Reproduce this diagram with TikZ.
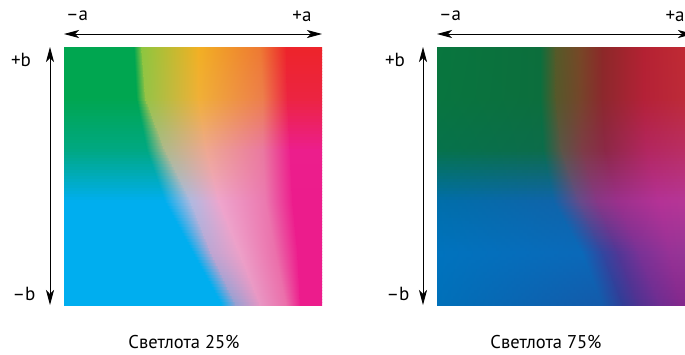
\documentclass[tikz,border=0pt]{standalone}
\usepackage{fontspec}
\setmainfont{PT Sans}
\usetikzlibrary{arrows.meta}

% key rows (t = 0, .2, .4, .6, .8, 1), 7 stops each
\def\Lpos{{0,0.27,0.30,0.52,0.76,0.86,1,
  0,0.28,0.315,0.52,0.77,0.865,1,
  0,0.32,0.39,0.55,0.77,0.875,1,
  0,0.39,0.49,0.60,0.78,0.885,1,
  0,0.50,0.57,0.68,0.82,0.905,1,
  0,0.61,0.665,0.76,0.86,0.915,1}}
\def\Rpos{{0,0.40,0.46,0.55,0.64,0.80,1,
  0,0.40,0.46,0.55,0.64,0.80,1,
  0,0.41,0.48,0.56,0.65,0.81,1,
  0,0.45,0.55,0.62,0.70,0.86,1,
  0,0.56,0.64,0.70,0.78,0.90,1,
  0,0.64,0.72,0.78,0.86,0.94,1}}

\newcommand\keyrow[9]{%
  \definecolor{#1#2c0}{RGB}{#3}\definecolor{#1#2c1}{RGB}{#4}%
  \definecolor{#1#2c2}{RGB}{#5}\definecolor{#1#2c3}{RGB}{#6}%
  \definecolor{#1#2c4}{RGB}{#7}\definecolor{#1#2c5}{RGB}{#8}%
  \definecolor{#1#2c6}{RGB}{#9}}

% Lightness 25%
\keyrow{L}{0}{0,166,80}{0,166,80}{141,198,63}{242,176,35}{238,120,50}{237,36,42}{237,36,42}
\keyrow{L}{1}{0,166,80}{0,166,80}{150,195,70}{240,176,55}{237,125,75}{236,36,65}{236,36,65}
\keyrow{L}{2}{0,168,130}{0,168,130}{175,185,140}{238,168,145}{234,120,160}{236,30,140}{236,30,140}
\keyrow{L}{3}{0,174,239}{0,174,239}{175,185,225}{238,165,205}{235,120,175}{236,28,140}{236,28,140}
\keyrow{L}{4}{0,174,239}{0,174,239}{190,165,210}{237,160,200}{235,110,170}{236,28,140}{236,28,140}
\keyrow{L}{5}{0,174,239}{0,174,239}{150,160,210}{232,150,195}{235,110,170}{236,28,140}{236,28,140}
% Lightness 75%
\keyrow{R}{0}{8,118,62}{12,110,60}{85,90,40}{118,72,38}{140,40,40}{180,33,50}{195,45,52}
\keyrow{R}{1}{8,117,63}{12,110,61}{85,88,42}{116,70,42}{140,40,45}{180,33,55}{192,45,56}
\keyrow{R}{2}{6,114,75}{12,108,74}{90,85,70}{125,60,70}{140,40,70}{178,38,95}{188,48,100}
\keyrow{R}{3}{0,110,170}{15,100,170}{100,75,140}{135,55,135}{155,48,140}{180,50,150}{182,55,150}
\keyrow{R}{4}{0,115,190}{10,105,185}{50,70,160}{80,55,150}{120,50,150}{150,50,150}{150,55,150}
\keyrow{R}{5}{0,112,185}{20,90,170}{50,60,150}{80,50,145}{110,45,145}{130,40,140}{135,40,140}

% #1 key prefix, #2 left x, #3 top y
\newcommand\huepatch[3]{%
  \expandafter\let\expandafter\hpPos\csname #1pos\endcsname
  \begin{scope}
  \clip (#2,#3) rectangle ++(258,258);
  \foreach \ii in {0,...,85}{
    \pgfmathsetmacro\hpT{(\ii+0.5)/17.2}
    \pgfmathtruncatemacro\hpA{min(floor(\hpT),4)}
    \pgfmathtruncatemacro\hpB{\hpA+1}
    \pgfmathsetmacro\hpS{\hpT-\hpA}
    \pgfmathtruncatemacro\hpW{round(100*(1-\hpS))}
    \pgfmathsetmacro\hpY{#3+3*\ii}
    \foreach \jj [evaluate=\jj as \kk using int(\jj+1)] in {0,...,5}{
      \pgfmathsetmacro\hpXa{#2+258*((1-\hpS)*\hpPos[7*\hpA+\jj]+\hpS*\hpPos[7*\hpB+\jj])}
      \pgfmathsetmacro\hpXb{#2+258*((1-\hpS)*\hpPos[7*\hpA+\kk]+\hpS*\hpPos[7*\hpB+\kk])}
      \colorlet{hpL}{#1\hpA c\jj!\hpW!#1\hpB c\jj}
      \colorlet{hpR}{#1\hpA c\kk!\hpW!#1\hpB c\kk}
      \shade[left color=hpL,right color=hpR] (\hpXa,\hpY) rectangle (\hpXb+0.6,\hpY+3.6);
    }
  }
  \end{scope}}

\begin{document}
\begin{tikzpicture}[x=1pt,y=-1pt,
    axArr/.style={{Stealth[length=15pt,width=8pt,inset=4pt]}-{Stealth[length=15pt,width=8pt,inset=4pt]},line width=0.8pt},
    axLbl/.style={inner sep=0pt,font=\fontsize{19}{22}\selectfont},
    capLbl/.style={inner sep=0pt,font=\fontsize{18.5}{22}\selectfont},
]
\useasboundingbox (0,0) rectangle (685,354);
\clip (0,0) rectangle (685,354);
% colour fields
\huepatch{L}{64}{47}
\huepatch{R}{437}{47}
% axes, left
\coordinate (la-w) at (64,34);
\coordinate (la-e) at (322,34);
\coordinate (lb-n) at (50,47);
\coordinate (lb-s) at (50,305);
\draw[axArr] (la-w) -- (la-e);
\draw[axArr] (lb-n) -- (lb-s);
\node[axLbl] (lma) at (77,16) {–a};
\node[axLbl] (lpa) at (302,16) {+a};
\node[axLbl] (lpb) at (21,60) {+b};
\node[axLbl] (lmb) at (24,294) {–b};
\node[capLbl] (lcap) at (184,342) {Светлота 25\%};
% axes, right
\coordinate (ra-w) at (437,34);
\coordinate (ra-e) at (693,34);
\coordinate (rb-n) at (423,47);
\coordinate (rb-s) at (423,305);
\draw[axArr] (ra-w) -- (ra-e);
\draw[axArr] (rb-n) -- (rb-s);
\node[axLbl] (rma) at (450,16) {–a};
\node[axLbl] (rpa) at (675,16) {+a};
\node[axLbl] (rpb) at (395,60) {+b};
\node[axLbl] (rmb) at (398,294) {–b};
\node[capLbl] (rcap) at (546,342) {Светлота 75\%};
\end{tikzpicture}
\end{document}
